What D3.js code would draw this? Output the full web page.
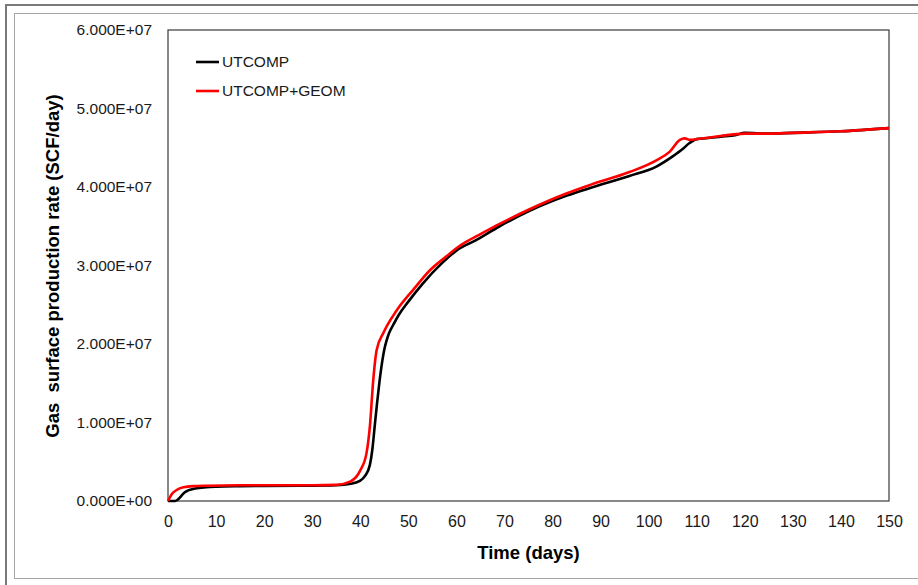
<!DOCTYPE html>
<html><head><meta charset="utf-8">
<script src="https://cdn.jsdelivr.net/npm/d3@7"></script>
<style>body{margin:0;background:#fff}svg{display:block}</style>
</head><body>
<svg id="c" width="918" height="585"></svg>
<script>
const seriesNames = ["UTCOMP", "UTCOMP+GEOM"];
const seriesColors = ["#000000", "#ff0000"];
const utcompT = [0,1,1.5,2,2.5,3,3.5,4,5,6,7,8,10,15,20,30,35,38,40,41,42,42.5,43,43.5,44,44.5,45,45.5,46,47,48,50,53,57,60,64,69,75,83,88,96,101.6,105,107,108.5,110,112,115,118,120,125,130,140,150];
const utcompV = [0,0,0,0.15,0.45,0.8,1.1,1.3,1.5,1.62,1.7,1.76,1.83,1.9,1.93,1.95,2.0,2.2,2.6,3.2,4.6,6.5,9.5,12.5,15.2,17.5,19.3,20.5,21.4,22.6,23.7,25.4,27.7,30.3,31.9,33.2,35.0,36.9,38.9,39.9,41.4,42.6,43.9,44.8,45.6,46.1,46.2,46.4,46.6,46.9,46.8,46.9,47.1,47.5];
const geomT = [0,0.7,1.8,3.2,5.3,8,15,30,35,38,40,41.3,42,42.7,43.4,44.8,47.6,51,54.5,58,60,62,65,69,75,83,88,96,101.6,104.4,106.5,107.5,108.6,110,112.7,115,120,125,130,140,150];
const geomV = [0,0.8,1.4,1.75,1.9,1.95,2.0,2.0,2.05,2.5,3.9,6.1,9.5,15.4,19.2,21.4,24.3,26.9,29.4,31.2,32.2,33.0,34.0,35.3,37.1,39.2,40.3,41.9,43.4,44.5,46.0,46.2,46.0,46.1,46.3,46.5,46.8,46.8,46.9,47.1,47.5];
const xTicks = [0,10,20,30,40,50,60,70,80,90,100,110,120,130,140,150];
const yTicks = [0,1e7,2e7,3e7,4e7,5e7,6e7];
const yTickLabels = ["0.000E+00","1.000E+07","2.000E+07","3.000E+07","4.000E+07","5.000E+07","6.000E+07"];
const xTitle = "Time (days)";
const yTitle = "Gas  surface production rate (SCF/day)";

const svg = d3.select("#c");
const font = "'Liberation Sans', Arial, sans-serif";
// frames
svg.append("rect").attr("x",6).attr("y",5).attr("width",930).attr("height",600)
  .attr("fill","none").attr("stroke","#7a7a7a").attr("stroke-width",2);
svg.append("rect").attr("x",14.5).attr("y",13.5).attr("width",920).attr("height",565)
  .attr("fill","none").attr("stroke","#a6a6a6").attr("stroke-width",1);

const L=168, R=889, T=30, B=501;
const x = d3.scaleLinear().domain([0,150]).range([L,R]);
const y = d3.scaleLinear().domain([0,6e7]).range([B,T]);

svg.append("rect").attr("x",L).attr("y",T).attr("width",R-L).attr("height",B-T)
  .attr("fill","none").attr("stroke","#3a3a3a").attr("stroke-width",1.2);

const xAxis = d3.axisBottom(x).tickValues(xTicks).tickSize(0).tickPadding(15).tickFormat(d3.format("d"));
const gx = svg.append("g").attr("transform",`translate(0,${B})`).call(xAxis);
gx.select(".domain").remove();
gx.selectAll("text").attr("font-family",font).attr("font-size",16).attr("fill","#1a1a1a");

const yAxis = d3.axisLeft(y).tickValues(yTicks).tickSize(0).tickPadding(16).tickFormat((d,i)=>yTickLabels[i]);
const gy = svg.append("g").attr("transform",`translate(${L},0)`).call(yAxis);
gy.select(".domain").remove();
gy.selectAll("text").attr("font-family",font).attr("font-size",15.5).attr("fill","#1a1a1a");

const line = d3.line().x(d=>x(d[0])).y(d=>y(d[1]*1e6)).curve(d3.curveMonotoneX);
const data = [d3.zip(utcompT, utcompV), d3.zip(geomT, geomV)];
data.forEach((d,i)=>{
  svg.append("path").datum(d).attr("d",line).attr("fill","none")
    .attr("stroke",seriesColors[i]).attr("stroke-width",2.6).attr("stroke-linejoin","round");
});

// legend
const lg = [62, 91];
seriesNames.forEach((n,i)=>{
  svg.append("line").attr("x1",196).attr("x2",219).attr("y1",lg[i]).attr("y2",lg[i])
    .attr("stroke",seriesColors[i]).attr("stroke-width",2.6);
  svg.append("text").attr("x",222).attr("y",lg[i]).attr("dy","0.35em")
    .attr("font-family",font).attr("font-size",15.5).attr("fill","#1a1a1a").text(n);
});

svg.append("text").attr("x",(L+R)/2).attr("y",559).attr("text-anchor","middle")
  .attr("font-family",font).attr("font-weight","bold").attr("font-size",18.5).attr("fill","#000").text(xTitle);
svg.append("text").attr("transform",`translate(59,${266}) rotate(-90)`).attr("text-anchor","middle")
  .attr("font-family",font).attr("font-weight","bold").attr("font-size",18.5).attr("fill","#000")
  .attr("xml:space","preserve").style("white-space","pre").text(yTitle);
</script>
</body></html>
